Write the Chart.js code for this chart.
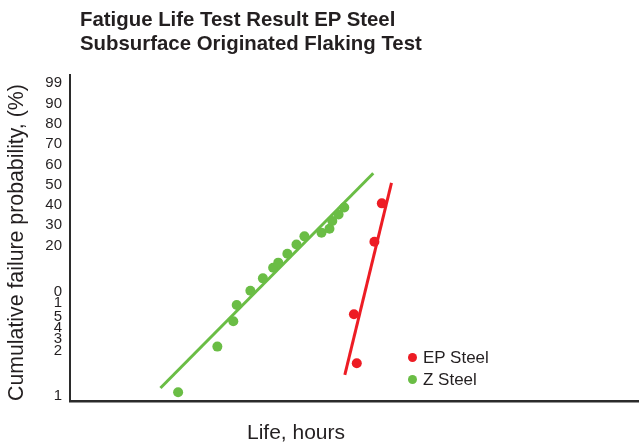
<!DOCTYPE html>
<html>
<head>
<meta charset="utf-8">
<script src="https://cdn.jsdelivr.net/npm/chart.js@4"></script>
<style>
  html, body { margin: 0; padding: 0; background: #fff; }
  #wrap { position: relative; width: 639px; height: 444px; font-family: "Liberation Sans", Arial, sans-serif; color: #231f20; }
  #chart { position: absolute; left: 0; top: 0; }
  .title { position: absolute; left: 80px; top: 7px; font-size: 20.4px; font-weight: bold; line-height: 24px; white-space: nowrap; }
  .xtitle { position: absolute; left: 196px; width: 200px; top: 421px; font-size: 21px; line-height: 21px; text-align: center; }
  .lg-dot { position: absolute; width: 9px; height: 9px; border-radius: 50%; }
  .lg-text { position: absolute; left: 423px; font-size: 17px; line-height: 20px; white-space: nowrap; }
</style>
</head>
<body>
<div id="wrap">
  <canvas id="chart" width="639" height="444"></canvas>
  <div class="title">Fatigue Life Test Result EP Steel<br>Subsurface Originated Flaking Test</div>
  <div class="xtitle">Life, hours</div>
  <div class="lg-dot" style="left:408px;top:353px;background:#ed1c24"></div>
  <div class="lg-text" style="top:348px">EP Steel</div>
  <div class="lg-dot" style="left:408px;top:375px;background:#6abd45"></div>
  <div class="lg-text" style="top:370px">Z Steel</div>
</div>
<script>
// probability axis: labels as printed, positions in axis units
const yTickLabels = ['99', '90', '80', '70', '60', '50', '40', '30', '20', '0', '1', '5', '4', '3', '2', '1'];
const yTickPos = [10, 9, 8, 7, 6, 5, 4.05, 3.03, 2, -0.24, -0.79, -1.46, -1.99, -2.56, -3.15, -5.35];

// Z steel test points
const zLife = [19.0, 25.9, 28.7, 29.3, 31.7, 33.9, 35.7, 36.6, 38.2, 39.8, 41.2, 44.2, 45.6, 46.1, 47.2, 48.2];
const zProb = [-5.17, -2.93, -1.69, -0.89, -0.19, 0.42, 0.94, 1.19, 1.63, 2.08, 2.48, 2.66, 2.85, 3.24, 3.55, 3.90];

// EP steel test points
const epLife = [50.4, 49.9, 53.5, 54.8];
const epProb = [-3.75, -1.34, 2.22, 4.10];

// fitted lines (end points)
const zFitLife = [15.9, 53.3];
const zFitProb = [-4.96, 5.58];
const epFitLife = [48.3, 56.5];
const epFitProb = [-4.32, 5.11];

const RED = '#ed1c24';
const GREEN = '#6abd45';
const FONT = '"Liberation Sans", Arial, sans-serif';

const toXY = (xs, ys) => xs.map((x, i) => ({ x: x, y: ys[i] }));

new Chart(document.getElementById('chart'), {
  type: 'scatter',
  data: {
    datasets: [
      { label: 'EP Steel', data: toXY(epLife, epProb), backgroundColor: RED, pointRadius: 5, borderWidth: 0, showLine: false },
      { label: 'Z Steel', data: toXY(zLife, zProb), backgroundColor: GREEN, pointRadius: 5, borderWidth: 0, showLine: false },
      { label: 'EP fit', data: toXY(epFitLife, epFitProb), borderColor: RED, borderWidth: 3, pointRadius: 0, showLine: true },
      { label: 'Z fit', data: toXY(zFitLife, zFitProb), borderColor: GREEN, borderWidth: 3, pointRadius: 0, showLine: true }
    ]
  },
  options: {
    responsive: false, animation: false,
    layout: { autoPadding: false, padding: { top: 75, left: 0, right: 0, bottom: 0 } },
    plugins: { legend: { display: false }, tooltip: { enabled: false }, title: { display: false } },
    scales: {
      x: {
        type: 'linear', min: 0, max: 100,
        ticks: { display: false },
        grid: { display: false, drawTicks: false },
        border: { color: '#2b2b2b', width: 2.5 },
        afterFit: s => { s.height = 43; }
      },
      y: {
        type: 'linear', min: -5.6, max: 10.4,
        afterBuildTicks: s => { s.ticks = yTickPos.map(v => ({ value: v })); },
        ticks: { autoSkip: false, padding: 8, color: '#231f20', font: { family: FONT, size: 15 }, callback: (v, i) => yTickLabels[i] },
        grid: { display: false, drawTicks: false },
        border: { color: '#2b2b2b', width: 2 },
        title: { display: true, text: 'Cumulative failure probability, (%)', align: 'start', color: '#231f20', font: { family: FONT, size: 21.3 }, padding: { top: 4, bottom: 0 } },
        afterFit: s => { s.width = 70; }
      }
    }
  }
});
</script>
</body>
</html>
